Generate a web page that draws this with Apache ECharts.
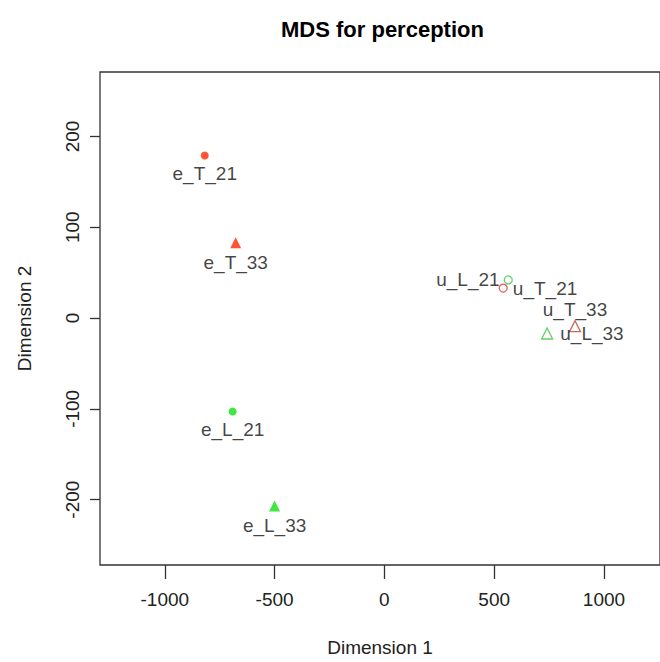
<!DOCTYPE html>
<html>
<head>
<meta charset="utf-8">
<script src="https://cdn.jsdelivr.net/npm/echarts@6/dist/echarts.min.js"></script>
<style>
  html, body { margin: 0; padding: 0; background: #fff; }
  #chart { width: 660px; height: 662px; }
</style>
</head>
<body>
<div id="chart"></div>
<script>
// MDS coordinates
const pointNames = ['e_T_21', 'e_T_33', 'e_L_21', 'e_L_33', 'u_T_21', 'u_T_33', 'u_L_21', 'u_L_33'];
const dim1 = [-818, -677, -691, -500, 541, 868, 564, 741];
const dim2 = [179, 83, -103, -207, 33, -9, 42, -17];

const xTicks = [-1000, -500, 0, 500, 1000];
const yTicks = [-200, -100, 0, 100, 200];

// look of each point (style only)
const pointSymbol = ['circle', 'triangle', 'circle', 'triangle', 'circle', 'triangle', 'circle', 'triangle'];
const pointFilled = [true, true, true, true, false, false, false, false];
const pointColor = ['#ff2a00', '#ff2a00', '#11e011', '#11e011', '#e0342a', '#c0402e', '#3cc43c', '#3cc43c'];
const labelPos = ['bottom', 'bottom', 'bottom', 'bottom', 'right', 'top', 'left', 'right'];
const labelDist = [4, 5, 4, 5, 5, 1, 4, 7];

const FONT = '"Liberation Sans", Arial, sans-serif';

const chart = echarts.init(document.getElementById('chart'), null, { renderer: 'svg' });

const data = pointNames.map((name, i) => ({
  name: name,
  value: [dim1[i], dim2[i]],
  symbol: pointSymbol[i],
  symbolSize: pointSymbol[i] === 'circle' ? 8 : 11,
  itemStyle: pointFilled[i]
    ? { color: pointColor[i], borderWidth: 0 }
    : { color: 'rgba(255,255,255,0)', borderColor: pointColor[i], borderWidth: 1.3 },
  label: { position: labelPos[i], distance: labelDist[i] },
}));

chart.setOption({
  animation: false,
  title: {
    text: 'MDS for perception',
    left: 276,
    top: 13,
    textStyle: { fontFamily: FONT, fontSize: 22, fontWeight: 'bold', color: '#000' },
  },
  grid: {
    left: 100,
    top: 72,
    width: 570,
    bottom: 84,
    show: true,
    borderColor: '#333',
    borderWidth: 1.3,
    backgroundColor: 'transparent',
  },
  xAxis: {
    type: 'value',
    position: 'bottom',
    min: -1295,
    max: 1255,
    name: 'Dimension 1',
    nameLocation: 'middle',
    nameGap: 73,
    nameTextStyle: { fontFamily: FONT, fontSize: 19, color: '#222' },
    axisLine: { show: false, onZero: false },
    splitLine: { show: false },
    axisTick: { show: true, length: 14, inside: false, customValues: xTicks, lineStyle: { color: '#333', width: 1.3 } },
    axisLabel: { customValues: xTicks, formatter: v => String(v), margin: 25, fontFamily: FONT, fontSize: 19, color: '#222' },
  },
  yAxis: {
    type: 'value',
    position: 'left',
    min: -272,
    max: 271,
    name: 'Dimension 2',
    nameLocation: 'middle',
    nameGap: 66,
    nameTextStyle: { fontFamily: FONT, fontSize: 19, color: '#222' },
    axisLine: { show: false, onZero: false },
    splitLine: { show: false },
    axisTick: { show: true, length: 10, inside: false, customValues: yTicks, lineStyle: { color: '#333', width: 1.3 } },
    axisLabel: { customValues: yTicks, formatter: v => String(v), rotate: 90, margin: 18, fontFamily: FONT, fontSize: 19, color: '#222' },
  },
  series: [{
    type: 'scatter',
    data: data,
    label: {
      show: true,
      formatter: '{b}',
      fontFamily: FONT,
      fontSize: 19,
      color: '#111',
    },
  }],
});
</script>
</body>
</html>
